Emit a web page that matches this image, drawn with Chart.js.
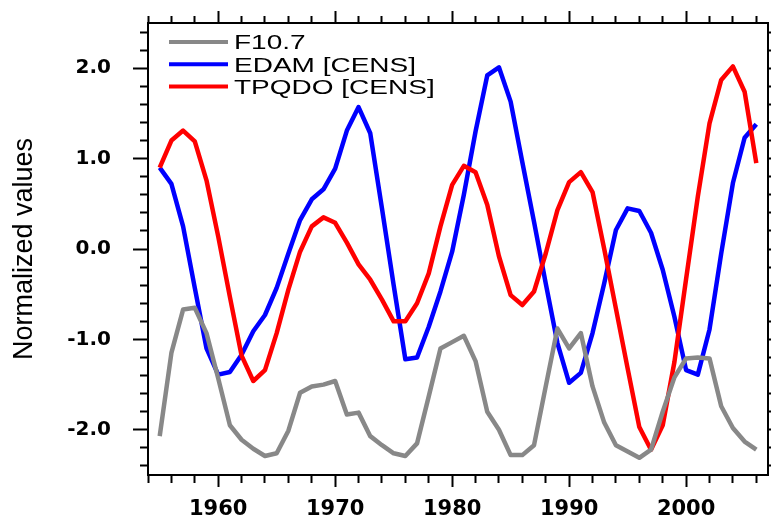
<!DOCTYPE html>
<html>
<head>
<meta charset="utf-8">
<script src="https://cdn.jsdelivr.net/npm/chart.js@4.4.0/dist/chart.umd.min.js"></script>
<style>
  html, body { margin: 0; padding: 0; background: #fff; overflow: hidden; }
  canvas { display: block; }
</style>
</head>
<body>
<canvas id="chart" width="771" height="521"></canvas>
<script>
// annual values, 1955-2006
const years = [1955, 1956, 1957, 1958, 1959, 1960, 1961, 1962, 1963, 1964,
               1965, 1966, 1967, 1968, 1969, 1970, 1971, 1972, 1973, 1974,
               1975, 1976, 1977, 1978, 1979, 1980, 1981, 1982, 1983, 1984,
               1985, 1986, 1987, 1988, 1989, 1990, 1991, 1992, 1993, 1994,
               1995, 1996, 1997, 1998, 1999, 2000, 2001, 2002, 2003, 2004,
               2005, 2006];

const f107 = [-2.07, -1.15, -0.67, -0.65, -0.93, -1.43, -1.95, -2.11, -2.21, -2.29,
              -2.26, -2.01, -1.59, -1.52, -1.50, -1.46, -1.83, -1.81, -2.07, -2.17,
              -2.26, -2.29, -2.15, -1.63, -1.10, -1.03, -0.96, -1.24, -1.80, -2.00,
              -2.28, -2.28, -2.17, -1.52, -0.88, -1.10, -0.93, -1.52, -1.92, -2.17,
              -2.24, -2.31, -2.22, -1.80, -1.42, -1.21, -1.20, -1.21, -1.74, -1.98,
              -2.13, -2.22];

const edam = [0.90, 0.72, 0.25, -0.43, -1.10, -1.39, -1.36, -1.17, -0.91, -0.73,
              -0.43, -0.05, 0.32, 0.55, 0.66, 0.89, 1.31, 1.57, 1.28, 0.45,
              -0.40, -1.22, -1.20, -0.86, -0.47, -0.03, 0.60, 1.30, 1.92, 2.01,
              1.63, 0.96, 0.30, -0.38, -1.04, -1.48, -1.37, -0.93, -0.38, 0.21,
              0.45, 0.42, 0.18, -0.23, -0.75, -1.34, -1.39, -0.89, -0.05, 0.73,
              1.23, 1.38];

const tpqdo = [0.90, 1.20, 1.31, 1.19, 0.76, 0.14, -0.53, -1.18, -1.46, -1.34,
               -0.93, -0.45, -0.03, 0.25, 0.35, 0.29, 0.07, -0.17, -0.34, -0.56,
               -0.80, -0.80, -0.60, -0.27, 0.25, 0.71, 0.92, 0.85, 0.49, -0.08,
               -0.51, -0.62, -0.47, -0.05, 0.43, 0.74, 0.85, 0.63, 0.00, -0.66,
               -1.32, -1.97, -2.22, -1.95, -1.25, -0.33, 0.58, 1.39, 1.87, 2.02,
               1.74, 0.95];

const xMajor = [1960, 1970, 1980, 1990, 2000];
const yMajor = [-2, -1, 0, 1, 2];
const xRange = [1954, 2007];
const yRange = [-2.5, 2.5];

const pts = vals => years.map((yr, i) => ({ x: yr, y: vals[i] }));

// every 2 years on x, every 0.2 on y
function buildXTicks(scale) {
  const t = [];
  for (let v = xRange[0]; v < xRange[1]; v += 2) t.push({ value: v });
  scale.ticks = t;
}
function buildYTicks(scale) {
  const t = [];
  for (let k = -12; k <= 12; k++) t.push({ value: k / 5 });
  scale.ticks = t;
}
const isXMajor = v => xMajor.includes(v);
const isYMajor = v => yMajor.some(m => Math.abs(m - v) < 1e-6);

const X_TL = 12, X_MINOR = 7;
const Y_TL = 15, Y_MINOR = 8;

// fixed box sizes so the plot frame lands where the original has it
function fixSize(prop, size) {
  return s => {
    s[prop] = size;
    s.paddingTop = s.paddingBottom = s.paddingLeft = s.paddingRight = 0;
  };
}

function xAxis(position) {
  const bottom = position === 'bottom';
  return {
    type: 'linear', position: position, min: xRange[0], max: xRange[1],
    afterBuildTicks: buildXTicks,
    afterFit: fixSize('height', bottom ? 46 : 23),
    border: { display: true, color: '#000', width: 2 },
    grid: {
      drawOnChartArea: false, drawTicks: true, tickLength: X_TL, tickWidth: 2, tickColor: '#000',
      tickBorderDash: c => isXMajor(c.tick.value) ? [] :
        (bottom ? [X_MINOR, 100] : [0, X_TL - X_MINOR, X_MINOR, 100])
    },
    ticks: {
      display: bottom, autoSkip: false, maxRotation: 0, minRotation: 0, padding: 10,
      color: '#000', font: { family: 'DejaVu Sans', size: 21, weight: 'bold' },
      callback: v => isXMajor(v) ? String(v) : ''
    }
  };
}

function yAxis(position) {
  const left = position === 'left';
  return {
    type: 'linear', position: position, min: yRange[0], max: yRange[1],
    afterBuildTicks: buildYTicks,
    afterFit: fixSize('width', left ? 148 : 3),
    border: { display: true, color: '#000', width: 2 },
    grid: {
      drawOnChartArea: false, drawTicks: true, tickLength: Y_TL, tickWidth: 2, tickColor: '#000',
      tickBorderDash: c => isYMajor(c.tick.value) ? [] :
        (left ? [0, Y_TL - Y_MINOR, Y_MINOR, 100] : [Y_MINOR, 100])
    },
    ticks: {
      display: left, autoSkip: false, padding: 22, color: '#000',
      font: { family: 'DejaVu Sans', size: 20, weight: 'bold' },
      callback: v => isYMajor(v) ? v.toFixed(1) : ''
    },
    title: {
      display: left, text: 'Normalized values', color: '#000',
      font: { family: 'Liberation Sans', size: 27 }, padding: { top: 8, bottom: 0 }
    }
  };
}

// legend drawn inside the plot, top-left
const insideLegend = {
  id: 'insideLegend',
  afterDraw(chart) {
    const ctx = chart.ctx;
    const a = chart.chartArea;
    const rows = [42, 64.2, 86.4];
    ctx.save();
    chart.data.datasets.forEach((ds, i) => {
      const y = rows[i];
      ctx.strokeStyle = ds.borderColor;
      ctx.lineWidth = 4;
      ctx.beginPath();
      ctx.moveTo(a.left + 21, y);
      ctx.lineTo(a.left + 80, y);
      ctx.stroke();
      ctx.save();
      ctx.translate(a.left + 86, y + 7.3);
      ctx.scale(1.4, 1);
      ctx.font = '20px "Liberation Sans"';
      ctx.fillStyle = '#000';
      ctx.textBaseline = 'alphabetic';
      ctx.fillText(ds.label, 0, 0);
      ctx.restore();
    });
    ctx.restore();
  }
};

const lineStyle = { borderWidth: 4.5, pointRadius: 0, tension: 0, borderJoinStyle: 'round', fill: false };

new Chart(document.getElementById('chart'), {
  type: 'line',
  data: {
    datasets: [
      Object.assign({ label: 'F10.7', data: pts(f107), borderColor: '#888888', order: 0 }, lineStyle),
      Object.assign({ label: 'EDAM [CENS]', data: pts(edam), borderColor: '#0000ff', order: 2 }, lineStyle),
      Object.assign({ label: 'TPQDO [CENS]', data: pts(tpqdo), borderColor: '#ff0000', order: 1 }, lineStyle)
    ]
  },
  options: {
    responsive: false,
    animation: false,
    devicePixelRatio: 1,
    layout: { padding: 0 },
    plugins: { legend: { display: false }, tooltip: { enabled: false } },
    scales: {
      x: xAxis('bottom'),
      x2: xAxis('top'),
      y: yAxis('left'),
      y2: yAxis('right')
    }
  },
  plugins: [insideLegend]
});
</script>
</body>
</html>
